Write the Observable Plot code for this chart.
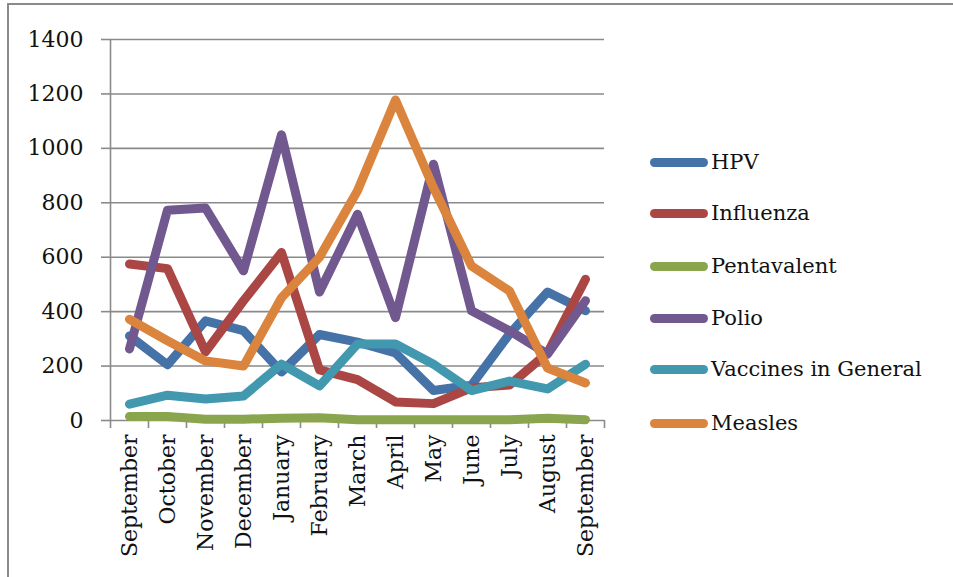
<!DOCTYPE html>
<html>
<head>
<meta charset="utf-8">
<script src="https://cdn.jsdelivr.net/npm/d3@7"></script>
<script src="https://cdn.jsdelivr.net/npm/@observablehq/plot@0.6"></script>
<style>
  html, body { margin: 0; padding: 0; background: #fff; overflow: hidden; }
  body { width: 953px; height: 577px; position: relative; font-family: "DejaVu Serif", serif; }
  #frame { position: absolute; left: 7px; top: 3px; width: 1000px; height: 1000px;
           border-left: 2.5px solid #8a8a8a; border-top: 2.5px solid #8a8a8a; pointer-events: none; }
  #chart { position: absolute; left: 0; top: 0; }
  #legend { position: absolute; left: 650px; top: 0; }
  .item { position: absolute; left: 0; display: flex; align-items: center; white-space: nowrap; }
  .swatch { width: 58px; height: 9px; border-radius: 4.5px; margin-right: 3px; }
  .label { font-size: 21px; color: #111; }
</style>
</head>
<body>
<div id="chart"></div>
<div id="legend"></div>
<div id="frame"></div>
<script>
const months = ["September","October","November","December","January","February","March","April","May","June","July","August","September"];
const seriesNames = ["HPV","Influenza","Pentavalent","Polio","Vaccines in General","Measles"];
const colors = ["#4572A7","#AA4643","#89A54E","#71588F","#4198AF","#DB843D"];
const hpv         = [311, 205, 366, 330, 178, 316, 288, 248, 110, 130, 318, 472, 403];
const influenza   = [575, 558, 252, 440, 617, 186, 150, 68, 62, 120, 130, 248, 519];
const pentavalent = [15, 15, 5, 5, 8, 10, 3, 3, 3, 3, 3, 8, 3];
const polio       = [263, 773, 781, 550, 1050, 472, 758, 378, 942, 403, 330, 244, 440];
const vaccines    = [60, 93, 79, 90, 207, 127, 281, 281, 207, 110, 145, 116, 207];
const measles     = [372, 293, 219, 200, 451, 600, 844, 1178, 855, 568, 476, 193, 138];
const yTicks = [0, 200, 400, 600, 800, 1000, 1200, 1400];

const values = [hpv, influenza, pentavalent, polio, vaccines, measles];
const rows = [];
values.forEach((arr, s) => arr.forEach((v, i) => rows.push({series: seriesNames[s], i, v})));

const gridColor = "#8a8a8a";
const font = "DejaVu Serif";

const chart = Plot.plot({
  width: 953,
  height: 577,
  marginLeft: 110,
  marginRight: 349,
  marginTop: 39,
  marginBottom: 157,
  style: {fontFamily: font, fontSize: "22px", color: "#111", background: "transparent"},
  x: {type: "linear", domain: [-0.5, 12.5], axis: null, label: null},
  y: {domain: [0, 1400], axis: null, label: null},
  color: {domain: seriesNames, range: colors},
  marks: [
    Plot.gridY(yTicks, {stroke: gridColor, strokeOpacity: 1, strokeWidth: 1.6}),
    Plot.axisY(yTicks, {label: null, tickSize: 9, tickPadding: 18, tickFormat: d => String(d), stroke: gridColor, strokeOpacity: 1, strokeWidth: 1.6, fontSize: 22, fill: "#111"}),
    Plot.axisX(d3.range(-0.5, 13, 1), {label: null, tickSize: 8, tickFormat: () => "", stroke: gridColor, strokeOpacity: 1, strokeWidth: 1.6}),
    Plot.axisX(d3.range(13), {label: null, tickSize: 0, tickPadding: 14, tickRotate: -90, tickFormat: i => months[i], fontSize: 22, fill: "#111"}),
    Plot.ruleX([-0.5], {stroke: gridColor, strokeWidth: 1.6}),
    Plot.line(rows, {x: "i", y: "v", z: "series", stroke: "series", strokeWidth: 9, strokeLinejoin: "round", strokeLinecap: "round"})
  ]
});
document.getElementById("chart").appendChild(chart);

const legendTops = [162, 213, 266, 318, 369, 423];
const legend = document.getElementById("legend");
seriesNames.forEach((name, k) => {
  const item = document.createElement("div");
  item.className = "item";
  item.style.top = (legendTops[k] - 14) + "px";
  item.style.height = "28px";
  item.innerHTML = `<div class="swatch" style="background:${colors[k]}"></div><span class="label">${name}</span>`;
  legend.appendChild(item);
});
</script>
</body>
</html>
